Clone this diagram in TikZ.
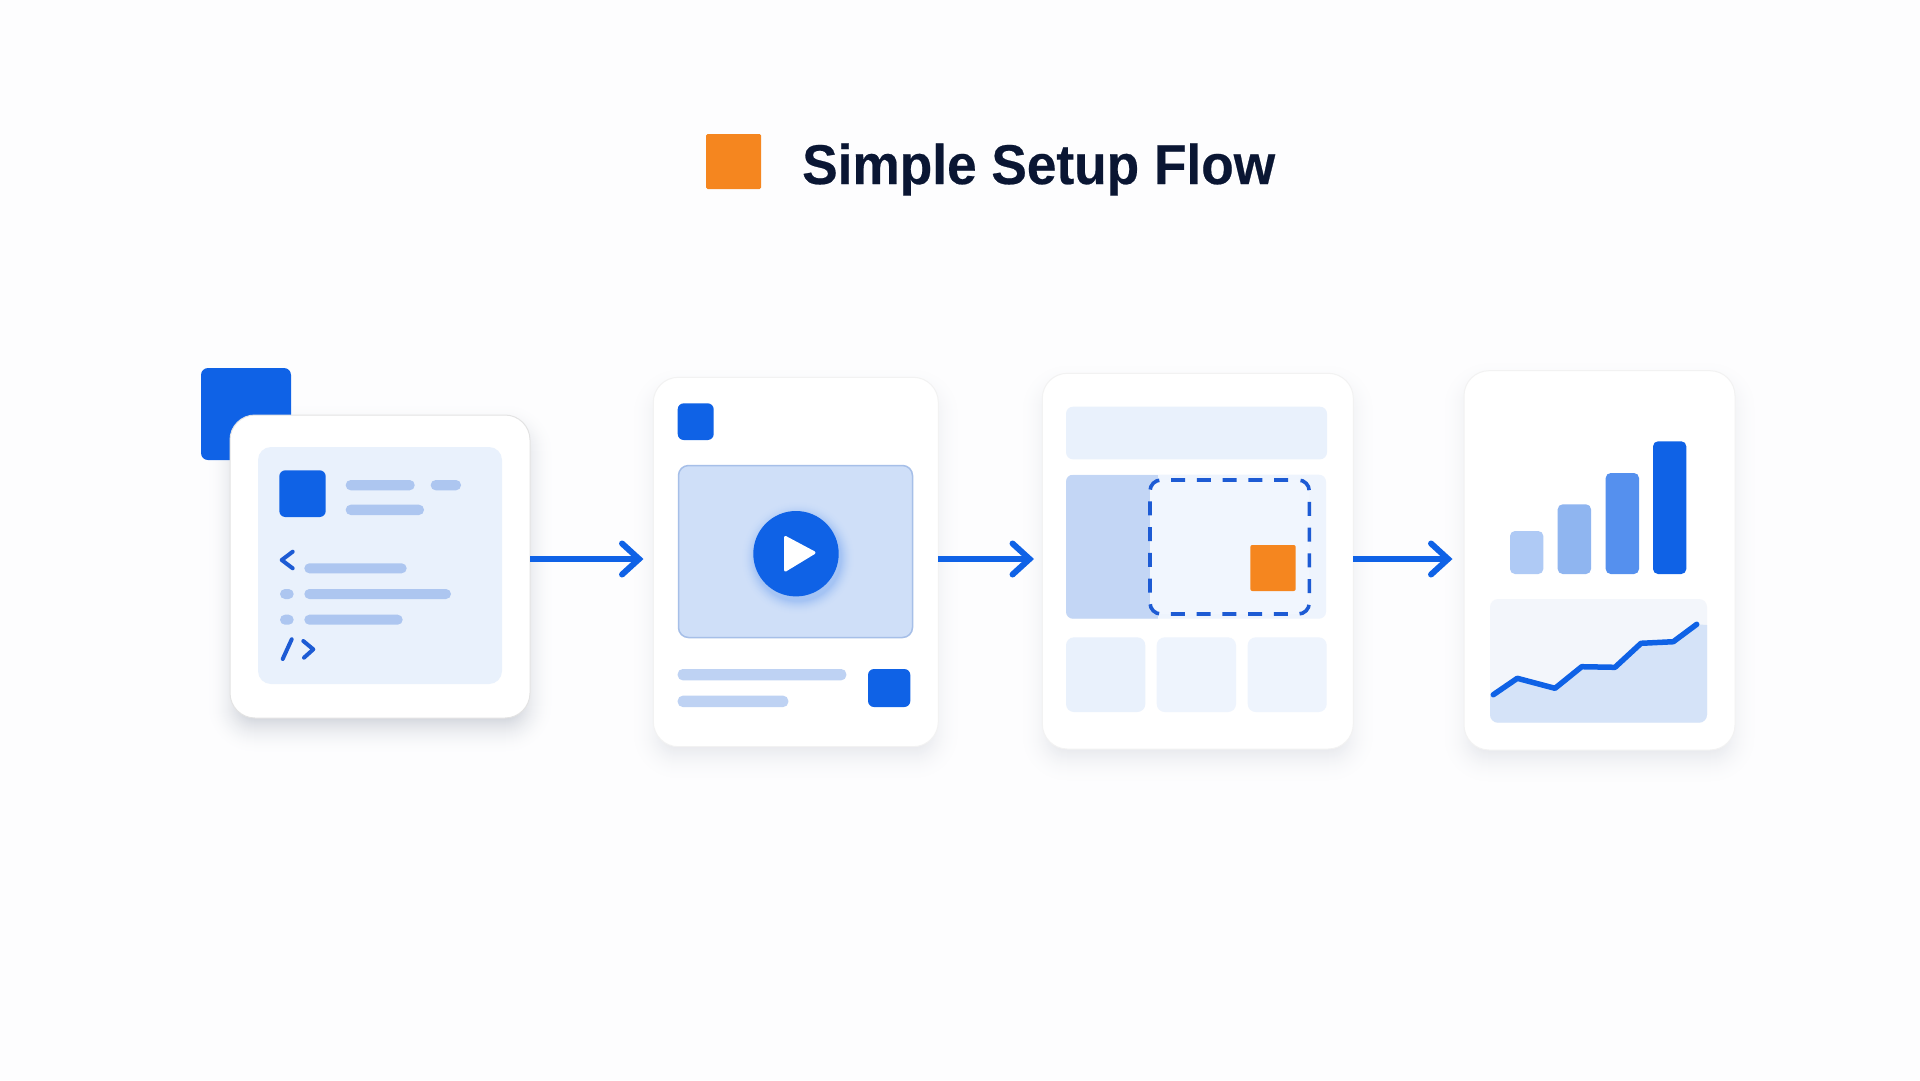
\documentclass[tikz,border=0pt]{standalone}
\usepackage{fontspec}
\setmainfont{Liberation Sans}
\usetikzlibrary{arrows.meta,calc}
\definecolor{bgc}{HTML}{FDFDFE}
\definecolor{blu}{HTML}{0F62E6}
\definecolor{dashc}{HTML}{1D5BD4}
\definecolor{org}{HTML}{F5861F}
\definecolor{ink}{HTML}{0A1633}
\definecolor{pale}{HTML}{E9F1FC}
\definecolor{paler}{HTML}{EEF4FD}
\definecolor{barc}{HTML}{ADC6F0}
\definecolor{linec}{HTML}{BED2F3}
\definecolor{vid}{HTML}{CFDFF8}
\definecolor{vidb}{HTML}{A6BFE8}
\definecolor{side}{HTML}{C3D6F5}
\definecolor{dashin}{HTML}{F1F6FE}
\definecolor{chartbg}{HTML}{F3F6FB}
\definecolor{area}{HTML}{D5E3F8}
\definecolor{shad}{HTML}{3A4A66}
\definecolor{barone}{HTML}{AFCAF5}
\definecolor{bartwo}{HTML}{8FB5F0}
\definecolor{barthree}{HTML}{5590EE}
\tikzset{
  x=1pt,y=-1pt,
  boxn/.style={inner sep=0pt,outer sep=0pt,rectangle},
  cardbox/.style={boxn,fill=white,draw=#1,line width=1pt,rounded corners=25pt},
  solid blue/.style={boxn,fill=blu,rounded corners=6pt},
  pill/.style={boxn,fill=#1,rounded corners=5pt},
  flow/.style={draw=blu,line width=6pt,-{Straight Barb[length=17pt,width=31pt,line cap=round]}},
  glyph/.style={draw=dashc,line width=4pt,line cap=round,line join=round},
  trend/.style={draw=blu,line width=5.5pt,line cap=round,line join=round},
}
% named box from corner coordinates
\newcommand\bx[6]{%
  \pgfmathsetmacro\bw{#5-#3}\pgfmathsetmacro\bh{#6-#4}%
  \pgfmathsetmacro\bcx{(#3+#5)/2}\pgfmathsetmacro\bcy{(#4+#6)/2}%
  \node[#2,minimum width=\bw pt,minimum height=\bh pt] (#1) at (\bcx,\bcy) {};}
% soft shadow: solid tints from outside in; x1,y1,x2,y2 of the card, radius, darkest percent
\newcommand\softshadow[6]{%
  \foreach \s in {36,35,...,1}{%
    \pgfmathsetmacro\rad{#5+\s-12}%
    \pgfmathsetmacro\pp{#6*((37-\s)/36)^2}%
    \fill[shad!\pp!bgc,rounded corners=\rad pt]
      (#1+12-\s,#2+12-\s+12) rectangle (#3-12+\s,#4-12+\s+12);}}
\begin{document}
\begin{tikzpicture}
\useasboundingbox (0,0) rectangle (1920,1080);
\fill[bgc] (0,0) rectangle (1920,1080);

% title
\bx{titlemark}{boxn,fill=org,rounded corners=1.5pt}{706}{134}{761}{189}
\node[anchor=base west,inner sep=0pt,text=ink,xscale=0.95,transform shape,font=\fontsize{56}{66}\selectfont\bfseries\addfontfeature{FakeBold=0.4}] (title) at (802,184) {Simple Setup Flow};

% card 1
\softshadow{230}{415}{530}{718}{25}{20}
\bx{corner}{boxn,fill=blu,rounded corners=7pt}{201}{368}{291}{460}
\bx{card1}{cardbox=black!11}{230}{415}{530}{718}
\bx{code}{boxn,fill=pale,rounded corners=13pt}{258}{447}{502}{684}
\bx{codesq}{solid blue}{279.3}{470.3}{325.7}{517}
\bx{l1}{pill=barc}{345.7}{480}{414.7}{490.3}
\bx{l2}{pill=barc}{430.7}{480}{461}{490.3}
\bx{l3}{pill=barc}{345.7}{504.7}{424}{515}
\bx{l4}{pill=barc}{304.3}{563.3}{406.7}{573.3}
\bx{d5}{pill=barc}{280}{589}{293.7}{599}
\bx{l5}{pill=barc}{304.3}{589}{451}{599}
\bx{d6}{pill=barc}{280}{614.7}{293.7}{624.7}
\bx{l6}{pill=barc}{304.3}{614.7}{402.7}{624.7}
\draw[glyph] (292.7,551.7) -- (281.7,560) -- (292.7,568.3);
\draw[glyph] (291.7,639.3) -- (282.7,659);
\draw[glyph] (303.3,641) -- (313.3,649.3) -- (304,657.7);

% card 2
\softshadow{653.3}{377.3}{938.3}{746.7}{25}{10}
\bx{card2}{cardbox=black!5}{653.3}{377.3}{938.3}{746.7}
\bx{vsq}{solid blue}{677.7}{403.3}{713.7}{440}
\bx{video}{boxn,fill=vid,draw=vidb,line width=1.5pt,rounded corners=10pt}{678.5}{465.5}{912.5}{637.5}
\foreach \s in {14,13,...,1}{%
  \pgfmathsetmacro\pp{22*((15-\s)/14)^2}%
  \fill[blu!\pp!vid] (798,558) circle ({42.7+\s});}
\node[boxn,circle,fill=blu,minimum size=85.4pt] (play) at (796,553.7) {};
\fill[white,draw=white,line width=3pt,line join=round] (785.5,537.5) -- (814,552.7) -- (785.5,570) -- cycle;
\bx{v1}{pill=linec}{677.7}{669}{846.3}{680.3}
\bx{v2}{pill=linec}{677.7}{695.7}{788.3}{707}
\bx{vbtn}{solid blue}{868}{669}{910.3}{707}

% card 3
\softshadow{1042.3}{373.3}{1353.3}{749}{25}{10}
\bx{card3}{cardbox=black!5}{1042.3}{373.3}{1353.3}{749}
\bx{header}{boxn,fill=pale,rounded corners=7pt}{1066}{406.7}{1327}{459.3}
\bx{stage}{boxn,fill=paler,rounded corners=7pt}{1066}{474.7}{1326}{618.7}
\begin{scope}
  \clip[rounded corners=7pt] (1066,474.7) rectangle (1326,618.7);
  \fill[side] (1066,474.7) rectangle (1158.3,618.7);
\end{scope}
\bx{drop}{boxn,fill=dashin,draw=dashc,line width=3.6pt,rounded corners=11pt,dash pattern=on 14pt off 11.75pt,dash phase=15.5pt}{1150}{480}{1309.3}{614}
\bx{osq}{boxn,fill=org,rounded corners=2pt}{1250.3}{545}{1295.7}{591}
\bx{t1}{boxn,fill=pale,rounded corners=8pt}{1066}{637.3}{1145.3}{712}
\bx{t2}{boxn,fill=paler,rounded corners=8pt}{1156.7}{637.3}{1236}{712}
\bx{t3}{boxn,fill=paler,rounded corners=8pt}{1247.7}{637.3}{1326.7}{712}

% card 4
\softshadow{1464}{370.7}{1735}{750}{25}{10}
\bx{card4}{cardbox=black!5}{1464}{370.7}{1735}{750}
\bx{b1}{boxn,fill=barone,rounded corners=5pt}{1510}{531}{1543.3}{574}
\bx{b2}{boxn,fill=bartwo,rounded corners=5pt}{1557.7}{504.3}{1591}{574}
\bx{b3}{boxn,fill=barthree,rounded corners=5pt}{1605.7}{473}{1639}{574}
\bx{b4}{boxn,fill=blu,rounded corners=5pt}{1653}{441.3}{1686.3}{574}
\bx{chart}{boxn,fill=chartbg,rounded corners=8pt}{1490}{599}{1707}{722.7}
\begin{scope}
  \clip[rounded corners=8pt] (1490,599) rectangle (1707,722.7);
  \fill[area] (1490,695) -- (1517.3,678.3) -- (1555,688.3) -- (1581.7,666.7) -- (1615,667.3) -- (1641,643.3) -- (1673.3,641.7) -- (1696.7,624.3) -- (1707,625) -- (1707,722.7) -- (1490,722.7) -- cycle;
\end{scope}
\draw[trend] (1493.3,694.7) -- (1517.3,678.3) -- (1555,688.3) -- (1581.7,666.7) -- (1615,667.3) -- (1641,643.3) -- (1673.3,641.7) -- (1696.7,624.3);

% connectors
\coordinate (a1) at (643.5,559);
\coordinate (a2) at (1034,559);
\coordinate (a3) at (1452.5,559);
\draw[flow] (card1.east |- a1) -- (a1);
\draw[flow] (card2.east |- a2) -- (a2);
\draw[flow] (card3.east |- a3) -- (a3);
\end{tikzpicture}
\end{document}
